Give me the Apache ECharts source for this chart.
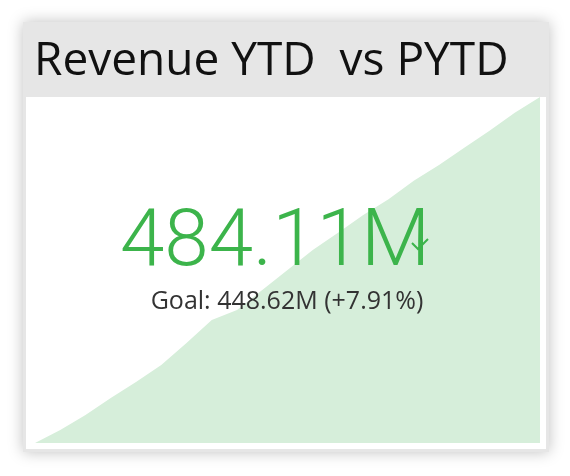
<!DOCTYPE html>
<html>
<head>
<meta charset="utf-8">
<script src="https://cdn.jsdelivr.net/npm/echarts@6/dist/echarts.min.js"></script>
<style>
  body { margin:0; background:#fff; }
  #card { position:absolute; left:23px; top:22px; width:520px; height:424px; border:3px solid #e6e6e6; background:#fff;
          box-shadow: 0 0 14px rgba(0,0,0,0.25); }
  #main { position:absolute; left:0; top:0; width:570px; height:476px; }
</style>
</head>
<body>
<div id="card"></div>
<div id="main"></div>
<script>
// cumulative revenue YTD (M)
var steps = [0,1,2,3,4,5,6,7,8,9,10,11,12,13,14,15,16,17,18,19,20];
var revenueYtd = [0,18.2,39.2,63,85.3,109,140,172,186,214,242,270,294,319,341,367,389,413,437,462,484.11];
var titleText = 'Revenue YTD  vs PYTD';
var valueText = '484.11M';
var goalText = 'Goal: 448.62M (+7.91%)';

var chart = echarts.init(document.getElementById('main'));
chart.setOption({
  backgroundColor: 'transparent',
  animation: false,
  grid: { left: 35, right: 30, top: 97, bottom: 33 },
  xAxis: { type: 'value', min: 0, max: 20, show: false },
  yAxis: { type: 'value', min: 0, max: 484.11, show: false },
  series: [{
    type: 'line',
    data: steps.map(function (s, i) { return [s, revenueYtd[i]]; }),
    symbol: 'none',
    lineStyle: { width: 0 },
    areaStyle: { color: '#d6eeda', opacity: 1 },
    z: 1
  }],
  graphic: [
    { type: 'rect', shape: { x: 26, y: 25, width: 520, height: 72 }, style: { fill: '#e6e6e6' }, z: 0 },
    { type: 'text', x: 34, y: 62, z: 10,
      style: { text: titleText, font: '46px "Open Sans", sans-serif', fill: '#111', textVerticalAlign: 'middle' } },
    { type: 'text', x: 275, y: 245, z: 10,
      style: { text: valueText, font: '300 80px Roboto, sans-serif', fill: '#3cb44b',
               textAlign: 'center', textVerticalAlign: 'middle' } },
    { type: 'polyline', z: 10, shape: { points: [[412, 243], [418, 249], [428, 239]] },
      style: { stroke: '#3cb44b', lineWidth: 2, fill: null } },
    { type: 'text', x: 287, y: 302, z: 10,
      style: { text: goalText, font: '500 25px "Open Sans", sans-serif', fill: '#333',
               textAlign: 'center', textVerticalAlign: 'middle' } }
  ]
});
</script>
</body>
</html>
